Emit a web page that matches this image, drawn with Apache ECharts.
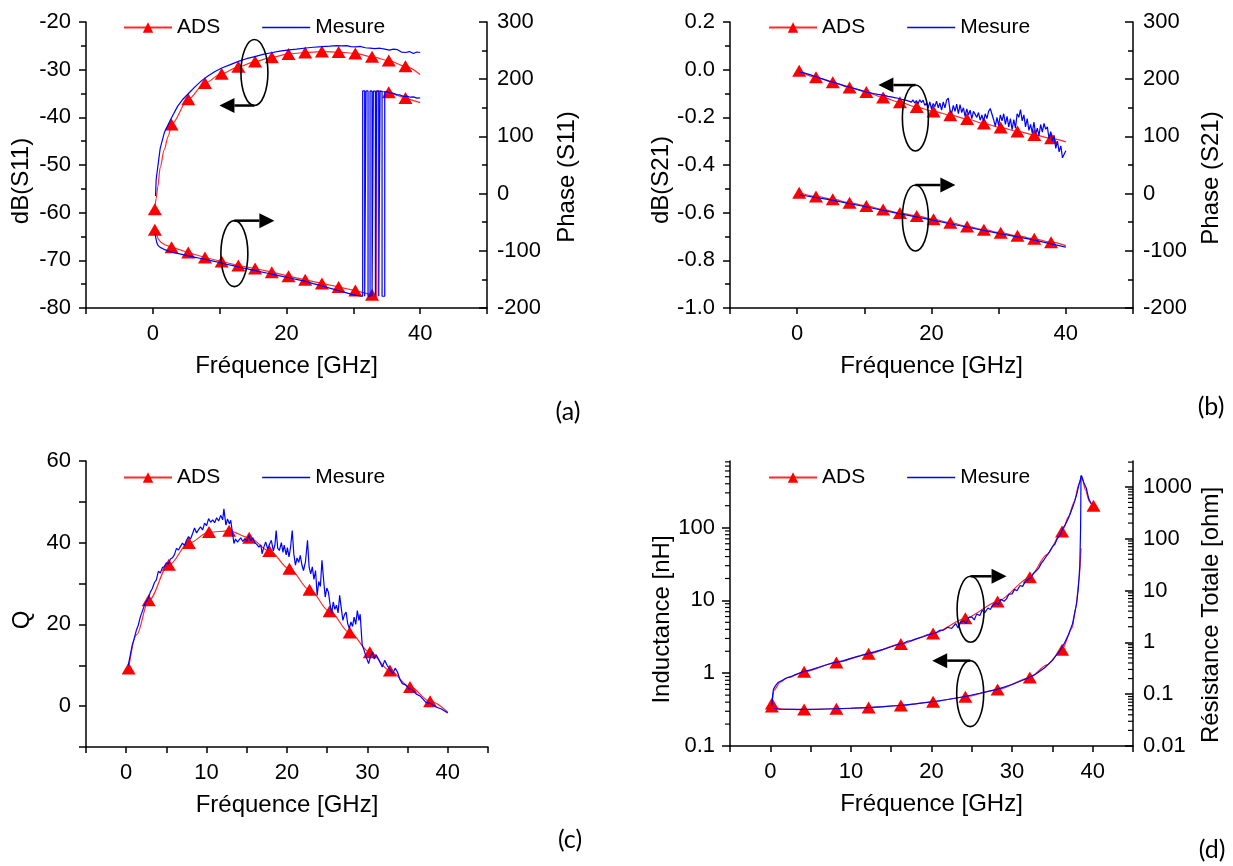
<!DOCTYPE html>
<html><head><meta charset="utf-8">
<script src="https://cdn.jsdelivr.net/npm/echarts@6.0.0/dist/echarts.min.js"></script>
<style>html,body{margin:0;padding:0;background:#fff}#c{width:1233px;height:866px}</style>
</head><body><div id="c"></div>
<script>
// ---------------- DATA ----------------
const markFreqABC = [0.3,2.8,5.3,7.8,10.3,12.8,15.3,17.8,20.3,22.8,25.3,27.8,30.3,32.8,35.3,37.8];
const markFreqD = [0.2,4.2,8.2,12.2,16.2,20.2,24.2,28.2,32.2,36.2,40.1];

// (a) S11
const adsS11dB = [[0.3,-59.3],[0.5,-57],[0.75,-54.5],[1.1,-50.5],[1.7,-46.8],[2.3,-44],[2.8,-41.5],[5.3,-36.2],[7.8,-32.8],[10.3,-30.85],[12.8,-29.4],[15.3,-28.3],[17.8,-27.4],[20.3,-26.7],[22.8,-26.4],[25.3,-26.2],[27.8,-26.3],[30.3,-26.6],[32.8,-27.3],[35.3,-28.1],[37.8,-29.3],[40,-31]];
const mesS11dB = [[0.4,-56.5],[0.5,-53],[0.75,-50.3],[1.1,-46.5],[1.7,-43.3],[2.6,-40.6],[3.7,-37.7],[4.5,-36.2],[5.4,-34.9],[6.3,-33.6],[7.3,-32.3],[8.3,-31.3],[9.3,-30.4],[10.4,-29.6],[11.5,-29.0],[12.9,-28.2],[14,-27.7],[15.4,-27.2],[16.5,-26.8],[17.9,-26.4],[19,-26.1],[20.4,-25.85],[21.5,-25.7],[22.9,-25.45],[24,-25.3],[25.4,-25.15],[26.5,-25.05],[27.5,-24.95],[28.2,-25.0],[29,-24.95],[29.6,-25.15],[30.4,-25.2],[31,-25.1],[31.8,-25.4],[32.5,-25.5],[33.2,-25.6],[34,-25.5],[34.7,-25.7],[35.4,-25.9],[36,-25.7],[36.6,-25.8],[37.2,-26.3],[37.8,-26.4],[38.4,-26.2],[39,-26.6],[39.5,-26.3],[40,-26.4]];
const adsS11ph = [[0.3,-63],[0.5,-70],[0.8,-79],[1.2,-85],[1.8,-89.5],[2.8,-93.6],[5.3,-103],[7.8,-111.7],[10.3,-118.7],[12.8,-125.7],[15.3,-131],[17.8,-137.3],[20.3,-144.3],[22.8,-150.8],[25.3,-157],[27.8,-163.3],[30.3,-169.5],[32.8,-177],[33.5,-179.9],[33.5,179.9],[35.3,177],[37.8,167],[40,159]];
const mesS11ph = [[0.35,-70],[0.45,-78],[0.6,-86],[0.8,-91],[1.1,-94],[1.6,-97],[2.2,-100],[3,-103],[4,-105.5],[5,-108],[6,-110.5],[7,-113],[8,-115.5],[9,-118],[10,-120.5],[11,-123.5],[12,-126],[13,-128.8],[14,-131.3],[15,-133.8],[16,-136.3],[17,-138.8],[18,-141.3],[19,-143.8],[20,-146.3],[21,-148.8],[22,-151.3],[23,-154],[24,-157.3],[25,-160.5],[26,-163.8],[27,-167],[28,-170.3],[29,-173.5],[30,-177],[31,-179],[31.4,-179.5],[31.4,179.5],[31.7,179.5],[31.7,-179.5],[31.9,-179.5],[31.9,179.5],[32.2,179.5],[32.2,-179.5],[32.5,-179.5],[32.5,179.5],[32.8,179],[32.8,-179.5],[33.0,-179.5],[33.0,179],[33.3,179],[33.3,-179.5],[33.5,-179.5],[33.5,179],[33.8,179],[33.8,-179.5],[34.0,-179.5],[34.0,179],[34.3,178.5],[34.3,-179.5],[34.7,-179.5],[34.7,178.5],[35,178],[35.5,176],[36,175.5],[36.5,173],[37,172.5],[37.5,170],[38,170.5],[38.5,168.5],[39,169],[39.5,167],[40,167.5]];

// (b) S21
const adsS21dB = [[0.3,-0.005],[2.8,-0.032],[5.3,-0.053],[7.8,-0.075],[10.3,-0.094],[12.8,-0.117],[15.3,-0.137],[17.8,-0.157],[20.3,-0.175],[22.8,-0.191],[25.3,-0.207],[27.8,-0.226],[30.3,-0.243],[32.8,-0.259],[35.3,-0.274],[37.8,-0.288],[40,-0.303]];
const mesS21dB = [[0.3,-0.010],[1,-0.013],[2,-0.022],[3,-0.032],[4,-0.041],[5,-0.050],[6,-0.058],[7,-0.067],[8,-0.075],[9,-0.083],[10,-0.091],
[10.25,-0.092],[10.5,-0.095],[10.75,-0.094],[11,-0.098],[11.25,-0.097],[11.5,-0.101],[11.75,-0.099],[12,-0.104],[12.25,-0.101],[12.5,-0.106],[12.75,-0.104],[13,-0.108],[13.25,-0.103],[13.5,-0.112],[13.75,-0.108],[14,-0.114],[14.25,-0.109],[14.5,-0.117],[14.75,-0.112],[15,-0.12],[15.25,-0.114],[15.5,-0.124],[15.75,-0.118],[16,-0.127],[16.25,-0.121],[16.5,-0.131],[16.75,-0.124],[17,-0.136],[17.25,-0.127],[17.5,-0.140],[17.75,-0.130],[18,-0.143],[18.25,-0.126],[18.5,-0.138],[18.75,-0.128],[19,-0.150],[19.25,-0.140],[19.5,-0.160],[19.75,-0.135],[20,-0.165],[20.25,-0.142],[20.5,-0.155],[20.75,-0.132],[21,-0.160],[21.25,-0.140],[21.5,-0.170],[21.75,-0.135],[22,-0.160],[22.25,-0.128],[22.5,-0.119],[22.75,-0.170],[23,-0.182],[23.25,-0.150],[23.5,-0.175],[23.75,-0.145],[24,-0.185],[24.25,-0.147],[24.5,-0.180],[24.75,-0.160],[25,-0.196],[25.25,-0.165],[25.5,-0.190],[25.75,-0.170],[26,-0.205],[26.25,-0.175],[26.5,-0.168],[26.75,-0.200],[27,-0.180],[27.25,-0.212],[27.5,-0.190],[27.75,-0.217],[28,-0.185],[28.25,-0.205],[28.5,-0.175],[28.75,-0.163],[29,-0.161],[29.25,-0.210],[29.5,-0.238],[29.75,-0.200],[30,-0.235],[30.25,-0.190],[30.5,-0.215],[30.75,-0.185],[31,-0.230],[31.25,-0.196],[31.5,-0.240],[31.75,-0.205],[32,-0.252],[32.25,-0.210],[32.5,-0.245],[32.75,-0.185],[33,-0.200],[33.25,-0.168],[33.5,-0.215],[33.75,-0.190],[34,-0.240],[34.25,-0.205],[34.5,-0.255],[34.75,-0.230],[35,-0.265],[35.25,-0.220],[35.5,-0.270],[35.75,-0.245],[36,-0.278],[36.25,-0.230],[36.5,-0.262],[36.75,-0.225],[37,-0.250],[37.25,-0.240],[37.5,-0.290],[37.75,-0.260],[38,-0.300],[38.25,-0.275],[38.5,-0.330],[38.75,-0.300],[39,-0.345],[39.25,-0.320],[39.5,-0.370],[39.75,-0.378],[40,-0.340]];
const adsS21ph = [[0.3,1.5],[2.8,-4.9],[5.3,-9.8],[7.8,-16.2],[10.3,-21.5],[12.8,-27.9],[15.3,-33.9],[17.8,-39],[20.3,-44.8],[22.8,-50.9],[25.3,-57.3],[27.8,-63.1],[30.3,-68.4],[32.8,-73.9],[35.3,-79.1],[37.8,-85],[40,-91]];
const mesS21ph = [[0.3,-2],[5,-11],[10,-22.5],[15,-34.5],[20,-46],[25,-58],[30,-69.5],[35,-80.5],[40,-93.5]];

// (c) Q
const adsQ = [[0.3,9.2],[1.3,17.5],[2.8,25.9],[5.3,34.6],[7.8,39.9],[10.3,42.6],[12.8,42.9],[15.3,41.2],[17.8,38.0],[20.3,33.6],[22.8,28.5],[25.3,23.2],[27.8,18.0],[30.3,13.2],[32.8,8.7],[35.3,4.7],[37.8,1.2],[40,-1.5]];
const mesQ = [[0.25,10.0],[0.5,12.4],[0.75,15.0],[1,16.6],[1.25,18.5],[1.5,19.8],[1.75,21.8],[2,23.2],[2.25,24.6],[2.5,25.6],[2.75,26.4],[3,27.9],[3.25,28.8],[3.5,30.2],[3.75,30.9],[4,33.0],[4.25,32.6],[4.5,33.9],[4.75,34.2],[5,35.1],[5.25,34.8],[5.5,36.0],[5.75,36.3],[6,37.1],[6.25,38.6],[6.5,38.2],[6.75,39.1],[7,39.9],[7.25,39.3],[7.5,40.6],[7.75,41.5],[8,40.9],[8.25,42.2],[8.5,43.6],[8.75,42.4],[9,43.2],[9.25,43.9],[9.5,43.1],[9.75,44.8],[10,44.2],[10.25,45.9],[10.5,45.0],[10.75,45.6],[11,44.9],[11.25,46.1],[11.5,45.3],[11.75,46.7],[12,45.6],[12.15,48.3],[12.4,44.3],[12.6,45.8],[12.85,44.6],[13,45.5],[13.25,42.0],[13.4,39.8],[13.6,40.9],[13.85,40.1],[14,40.6],[14.25,41.2],[14.5,40.3],[14.75,41.0],[15,40.4],[15.25,41.8],[15.5,40.5],[15.75,41.2],[16,40.0],[16.25,39.6],[16.5,38.9],[16.75,39.5],[16.9,37.3],[17.1,38.8],[17.35,40.2],[17.6,38.4],[17.8,39.5],[18.05,40.6],[18.3,38.0],[18.5,39.5],[18.65,43.0],[18.85,38.6],[19.05,38.1],[19.3,40.0],[19.5,37.6],[19.65,39.4],[19.9,37.0],[20.05,38.8],[20.25,36.5],[20.45,39.0],[20.65,43.0],[20.85,37.2],[21.05,34.5],[21.25,36.3],[21.45,35.2],[21.65,36.9],[21.85,34.6],[22.05,33.2],[22.3,35.4],[22.55,40.6],[22.75,34.0],[22.95,32.4],[23.15,34.1],[23.35,31.0],[23.55,33.2],[23.75,27.1],[23.95,30.5],[24.15,29.3],[24.35,35.7],[24.55,31.0],[24.75,26.7],[24.95,28.9],[25.15,27.9],[25.35,25.0],[25.55,22.6],[25.75,25.5],[25.95,23.7],[26.15,24.7],[26.35,22.8],[26.55,27.1],[26.75,24.0],[26.95,21.0],[27.15,22.4],[27.35,23.0],[27.55,20.2],[27.75,19.0],[27.95,20.6],[28.15,19.5],[28.35,21.8],[28.55,20.0],[28.75,23.4],[28.95,21.0],[29.1,22.5],[29.35,15.0],[29.6,13.6],[29.85,12.0],[30.15,10.4],[30.4,12.3],[30.65,13.2],[30.85,11.5],[31.05,12.6],[31.25,12.0],[31.55,10.8],[31.85,9.6],[32.15,11.2],[32.45,10.0],[32.8,9.0],[33.15,7.9],[33.45,9.3],[33.75,8.3],[34.05,6.5],[34.35,5.5],[34.75,5.2],[35.15,4.3],[35.6,4.0],[36.05,3.0],[36.6,2.4],[37.25,1.0],[37.9,0.6],[38.55,-0.2],[39.2,-0.7],[39.85,-1.5],[40,-1.7]];

// (d) Inductance (left, nH) and Résistance totale (right, ohm)
const adsL = [[0.2,0.35],[1.5,0.322],[4.2,0.316],[8.2,0.325],[12.2,0.337],[16.2,0.36],[20.2,0.405],[24.2,0.475],[28.2,0.595],[32.2,0.87],[34.3,1.3],[36.2,2.1],[37.45,4.2],[37.9,7.9],[38.3,18.4],[38.55,52]];
const mesL = [[0.4,0.33],[1,0.322],[2,0.32],[4,0.318],[6,0.32],[8,0.325],[10,0.33],[12,0.337],[14,0.347],[16,0.36],[18,0.38],[20,0.405],[22,0.435],[24,0.475],[26,0.53],[28,0.595],[30,0.7],[32,0.86],[33,0.98],[34,1.18],[35,1.5],[36,2.1],[36.5,2.6],[37,3.4],[37.5,4.8],[38,9],[38.2,14],[38.4,30],[38.5,100],[38.55,520]];
const adsR = [[0.2,0.066],[0.5,0.12],[1.2,0.17],[2.2,0.21],[4.2,0.27],[8.2,0.41],[12.2,0.6],[16.2,0.93],[20.2,1.48],[24.2,2.9],[28.2,6.1],[32.2,18],[34.3,49],[36.2,137],[37,266],[37.7,515],[38.3,1150],[38.65,1560],[39.1,870],[39.6,515],[40.1,430]];
const mesR = [[0.2,0.06],[0.3,0.1],[0.4,0.125],[0.7,0.15],[1.0,0.17],[1.5,0.185],[2,0.205],[2.5,0.215],[3,0.235],[3.5,0.25],[4,0.27],[5,0.295],[6,0.33],[7,0.37],[8,0.41],[9,0.44],[10,0.49],[11,0.54],[12,0.6],[13,0.66],[14,0.73],[15,0.82],[16,0.93],[16.5,0.95],[17,1.05],[17.5,1.08],[18,1.15],[18.5,1.22],[19,1.28],[19.5,1.38],[20,1.46],[20.5,1.52],[21,1.7],[21.5,1.72],[22,1.95],[22.5,1.85],[23,2.3],[23.3,1.9],[23.6,2.45],[24,2.6],[24.3,2.3],[24.6,3.0],[25,3.1],[25.3,2.7],[25.6,3.5],[26,3.3],[26.3,4.2],[26.6,3.7],[27,4.6],[27.3,4.3],[27.6,5.2],[28,5.8],[28.3,5.3],[28.6,6.8],[29,6.2],[29.3,6.9],[29.6,8.5],[30,8.6],[30.3,10.5],[30.6,9.9],[31,12.5],[31.3,12],[31.6,14.5],[32,16.5],[32.3,17.5],[32.6,21],[33,24],[33.3,27],[33.6,33],[34,40],[34.3,47],[34.6,55],[35,70],[35.3,78],[35.6,100],[36,120],[36.3,160],[36.6,185],[37,250],[37.3,330],[37.6,440],[38,700],[38.3,1100],[38.6,1650],[38.9,1200],[39.2,950],[39.5,600],[39.8,470]];

const legendNames = ['ADS','Mesure'];
const panelLabels = ['(a)','(b)','(c)','(d)'];

// ---------------- STYLE / HELPERS ----------------
const FONT = '"Liberation Sans", Arial, sans-serif';
const BLACK = '#000';
const RED = '#ff2a2a';
const BLUE = '#0000ff';
const axisLine = {show:true, onZero:false, lineStyle:{color:BLACK, width:1.5}};
const tickStyle = {color:BLACK, width:1.5};
const labelStyle = {fontSize:22, fontFamily:FONT, color:BLACK};
const nameStyle = (pad) => ({fontSize:24, fontFamily:FONT, color:BLACK, padding:pad});

function xAxisCfg(grid, min, max, interval, labelStep) {
  return {type:'value', gridIndex:grid, min, max, interval,
    name:'Fréquence [GHz]', nameLocation:'middle', nameGap:46, nameTextStyle:nameStyle([0,0,0,0]),
    axisLine, axisTick:{show:true, length:6, lineStyle:tickStyle},
    axisLabel:Object.assign({margin:15, formatter:v => (Math.abs(v % labelStep) < 1e-9 ? String(v) : '')}, labelStyle),
    splitLine:{show:false}};
}
function yLin(grid, min, max, interval, name, opts) {
  const right = opts.right;
  return {type:'value', gridIndex:grid, min, max, interval, position: right ? 'right' : 'left',
    name, nameLocation:'middle', nameGap:opts.gap, nameTextStyle:nameStyle(opts.pad),
    axisLine, axisTick:{show:true, inside:!!right, length:opts.tick || 7, lineStyle:tickStyle},
    minorTick:{show:!!opts.minor, splitNumber:2, length:5, lineStyle:tickStyle},
    axisLabel:Object.assign({margin: right ? 10 : 15, formatter:opts.fmt}, labelStyle),
    splitLine:{show:false}, minorSplitLine:{show:false}};
}
function decadeFmt(v) {
  const e = Math.log10(v);
  if (Math.abs(e - Math.round(e)) > 1e-6) return '';
  return String(+Number(v).toPrecision(6));
}
function yLog(grid, min, max, name, opts) {
  const right = opts.right;
  return {type:'log', logBase:10, gridIndex:grid, min, max, position: right ? 'right' : 'left',
    name, nameLocation:'middle', nameGap:opts.gap, nameTextStyle:nameStyle(opts.pad),
    axisLine, axisTick:{show:true, inside:!!right, length:8, lineStyle:tickStyle},
    axisLabel:Object.assign({margin: right ? 10 : 15, formatter:decadeFmt, showMaxLabel:false}, labelStyle),
    splitLine:{show:false}};
}
function adsData(pairs, marks) {
  return pairs.map(p => marks.includes(p[0]) ? {value:p} : {value:p, symbol:'none'});
}
function adsSeries(pairs, marks, xi, yi, smooth) {
  return {type:'line', name:'ADS', xAxisIndex:xi, yAxisIndex:yi, data:adsData(pairs, marks),
    symbol:'triangle', symbolSize:[14,12], showSymbol:true, smooth:smooth, smoothMonotone:'x',
    lineStyle:{color:RED, width:1.2}, itemStyle:{color:'#ff0000'}, z:2, animation:false};
}
function mesSeries(pairs, xi, yi) {
  return {type:'line', name:'Mesure', xAxisIndex:xi, yAxisIndex:yi, data:pairs,
    symbol:'none', showSymbol:false, smooth:false,
    lineStyle:{color:BLUE, width:1.2}, itemStyle:{color:BLUE}, z:3, animation:false};
}
function legendCfg(left, top) {
  return {left, top, orient:'horizontal',
    data:[{name:legendNames[0]}, {name:legendNames[1], icon:'path://M0,0H48V1.3H0Z'}],
    itemWidth:48, itemHeight:13, itemGap:42, symbolKeepAspect:true,
    selectedMode:false, textStyle:{fontSize:21, fontFamily:FONT, color:BLACK}};
}

const grids = [
  {left:86, top:22, width:401, height:286},
  {left:730, top:22, width:403, height:286},
  {left:86, top:461, width:402, height:286},
  {left:730, top:461, width:403, height:285}
].map(g => Object.assign({outerBoundsMode:'none', containLabel:false}, g));

const option = {
  animation:false,
  backgroundColor:'#fff',
  grid: grids,
  legend: [legendCfg(118,12), legendCfg(763,12), legendCfg(118,462), legendCfg(763,462)],
  xAxis: [
    xAxisCfg(0,-10,50,10,20),
    xAxisCfg(1,-10,50,10,20),
    xAxisCfg(2,-5,45,5,10),
    xAxisCfg(3,-5,45,5,10)
  ],
  yAxis: [
    yLin(0,-80,-20,10,'dB(S11)',{gap:53, pad:[0,32,0,0], minor:true}),
    yLin(0,-200,300,100,'Phase (S11)',{right:true, gap:68, pad:[0,24,0,0], minor:true, tick:8}),
    yLin(1,-1.0,0.2,0.2,'dB(S21)',{gap:54, pad:[0,30,0,0], minor:true, fmt:v => (Math.abs(v) < 1e-9 ? '0.0' : v.toFixed(1))}),
    yLin(1,-200,300,100,'Phase (S21)',{right:true, gap:66, pad:[0,26,0,0], minor:true, tick:8}),
    yLin(2,-10,60,10,'Q',{gap:52, pad:[0,32,0,0], fmt:v => (Math.abs(v % 20) < 1e-9 ? String(v) : '')}),
    yLog(3,0.1,822,'Inductance [nH]',{gap:42, pad:[0,32,0,0]}),
    yLog(3,0.01,3150,'Résistance Totale [ohm]',{right:true, gap:66, pad:[0,23,0,0]})
  ],
  series: [
    adsSeries(adsS11dB, markFreqABC, 0, 0, 0.3),
    adsSeries(adsS11ph, markFreqABC, 0, 1, false),
    mesSeries(mesS11dB, 0, 0),
    mesSeries(mesS11ph, 0, 1),
    adsSeries(adsS21dB, markFreqABC, 1, 2, 0.3),
    adsSeries(adsS21ph, markFreqABC, 1, 3, 0.3),
    mesSeries(mesS21dB, 1, 2),
    mesSeries(mesS21ph, 1, 3),
    adsSeries(adsQ, markFreqABC, 2, 4, 0.35),
    mesSeries(mesQ, 2, 4),
    adsSeries(adsL, markFreqD, 3, 5, 0.25),
    adsSeries(adsR, markFreqD, 3, 6, 0.25),
    mesSeries(mesL, 3, 5),
    mesSeries(mesR, 3, 6)
  ]
};

const chart = echarts.init(document.getElementById('c'), null, {renderer:'canvas', width:1233, height:866});
chart.setOption(option);

// ---------------- ANNOTATIONS (data coordinates) ----------------
const annotations = [
  {xAxis:0, yAxis:0, at:[15.2,-30.6], rx:13.5, ry:33, from:'bottom', dir:-1, len:35},
  {xAxis:0, yAxis:0, at:[12.2,-68.6], rx:13.5, ry:33, from:'top', dir:1, len:40},
  {xAxis:1, yAxis:2, at:[17.6,-0.203], rx:13, ry:33, from:'top', dir:-1, len:37},
  {xAxis:1, yAxis:2, at:[17.6,-0.6225], rx:13, ry:33, from:'top', dir:1, len:40},
  {xAxis:3, yAxis:5, at:[24.85,7.55], rx:13.5, ry:33, from:'top', dir:1, len:36},
  {xAxis:3, yAxis:5, at:[24.8,0.524], rx:13.5, ry:33, from:'top', dir:-1, len:38}
];
const labelPos = [[568,412],[1211,407],[570,840],[1212,850]];

const gfx = [];
panelLabels.forEach((t, i) => {
  gfx.push({type:'text', silent:true, z:100, style:{text:t, x:labelPos[i][0], y:labelPos[i][1],
    textAlign:'center', textVerticalAlign:'middle', verticalAlign:'middle',
    font:'25px Lato, "Open Sans", sans-serif', fill:BLACK}});
});
annotations.forEach(a => {
  const p = chart.convertToPixel({xAxisIndex:a.xAxis, yAxisIndex:a.yAxis}, a.at);
  gfx.push({type:'ellipse', silent:true, z:100, shape:{cx:p[0], cy:p[1], rx:a.rx, ry:a.ry},
    style:{fill:'none', stroke:BLACK, lineWidth:1.6}});
  const y = a.from === 'top' ? p[1] - a.ry : p[1] + a.ry;
  const tip = p[0] + a.dir * a.len;
  const base = tip - a.dir * 15;
  gfx.push({type:'line', silent:true, z:100, shape:{x1:p[0], y1:y, x2:base, y2:y}, style:{stroke:BLACK, lineWidth:2.5}});
  gfx.push({type:'polygon', silent:true, z:100, shape:{points:[[tip,y],[base,y-7.5],[base,y+7.5]]}, style:{fill:BLACK}});
});
// log-axis minor ticks (2..9 in each decade)
function logMinor(yi, xEdge, lo, hi, dir) {
  for (let d = lo; d < hi * 10; d *= 10) {
    for (let k = 2; k <= 9; k++) {
      const v = +(d * k).toPrecision(6);
      if (v <= lo || v >= hi) continue;
      const p = chart.convertToPixel({xAxisIndex:3, yAxisIndex:yi}, [xEdge, v]);
      gfx.push({type:'line', silent:true, z:100, shape:{x1:p[0], y1:p[1], x2:p[0] + dir * 5, y2:p[1]},
        style:{stroke:BLACK, lineWidth:1.2}});
    }
  }
}
logMinor(5, -5, 0.1, 822, -1);
logMinor(6, 45, 0.01, 3150, -1);

chart.setOption({graphic: gfx});
</script></body></html>
